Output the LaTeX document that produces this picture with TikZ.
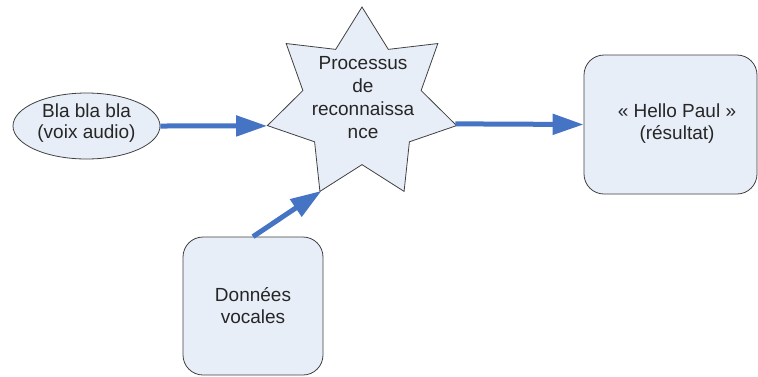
\documentclass[tikz,border=0pt]{standalone}
\usepackage{fontspec}
\setmainfont{Liberation Sans}
\usetikzlibrary{shapes.geometric,arrows.meta}
\definecolor{boxfill}{RGB}{232,238,248}
\definecolor{boxline}{RGB}{64,64,64}
\definecolor{arrowblue}{RGB}{70,116,196}
\definecolor{txt}{RGB}{38,38,38}
\tikzset{
  shapebox/.style={draw=boxline, fill=boxfill, line width=0.8pt, inner sep=0pt, text=txt},
  roundbox/.style={shapebox, rectangle, rounded corners=20pt},
  lbl/.style={text=txt, align=center, font=\fontsize{19}{22}\selectfont, inner sep=0pt},
  flow/.style={draw=arrowblue, line width=5pt, -{Triangle[length=31pt,width=20pt]}},
}
\begin{document}
\begin{tikzpicture}[x=1pt,y=-1pt]
\useasboundingbox (0,0) rectangle (758,376);
% nodes
\node[shapebox, ellipse, minimum width=147pt, minimum height=66pt] (voice) at (86.5,126) {};
\node[lbl, font=\fontsize{19}{21}\selectfont] (voicetxt) at (86.5,123) {Bla bla bla\\(voix audio)};
\node[shapebox, star, star points=7, star point ratio=1.6, minimum size=194pt] (proc) at (362,104) {};
\node[lbl, font=\fontsize{19}{23}\selectfont] (proctxt) at (363,98) {Processus\\de\\reconnaissa\\nce};
\node[roundbox, minimum width=173pt, minimum height=139pt] (hello) at (670.5,124.5) {};
\node[lbl] (hellotxt) at (677,124) {« Hello Paul »\\(résultat)};
\node[roundbox, minimum width=140pt, minimum height=138pt] (data) at (253,306) {};
\node[lbl] (datatxt) at (253,306) {Données\\vocales};
% connectors
\draw[flow] (voice.east) -- (proc.-167.14);
\draw[flow] (proc.-12.86) -- (hello.west);
\draw[flow] (data.north) -- (proc.-115.71);
\end{tikzpicture}
\end{document}
